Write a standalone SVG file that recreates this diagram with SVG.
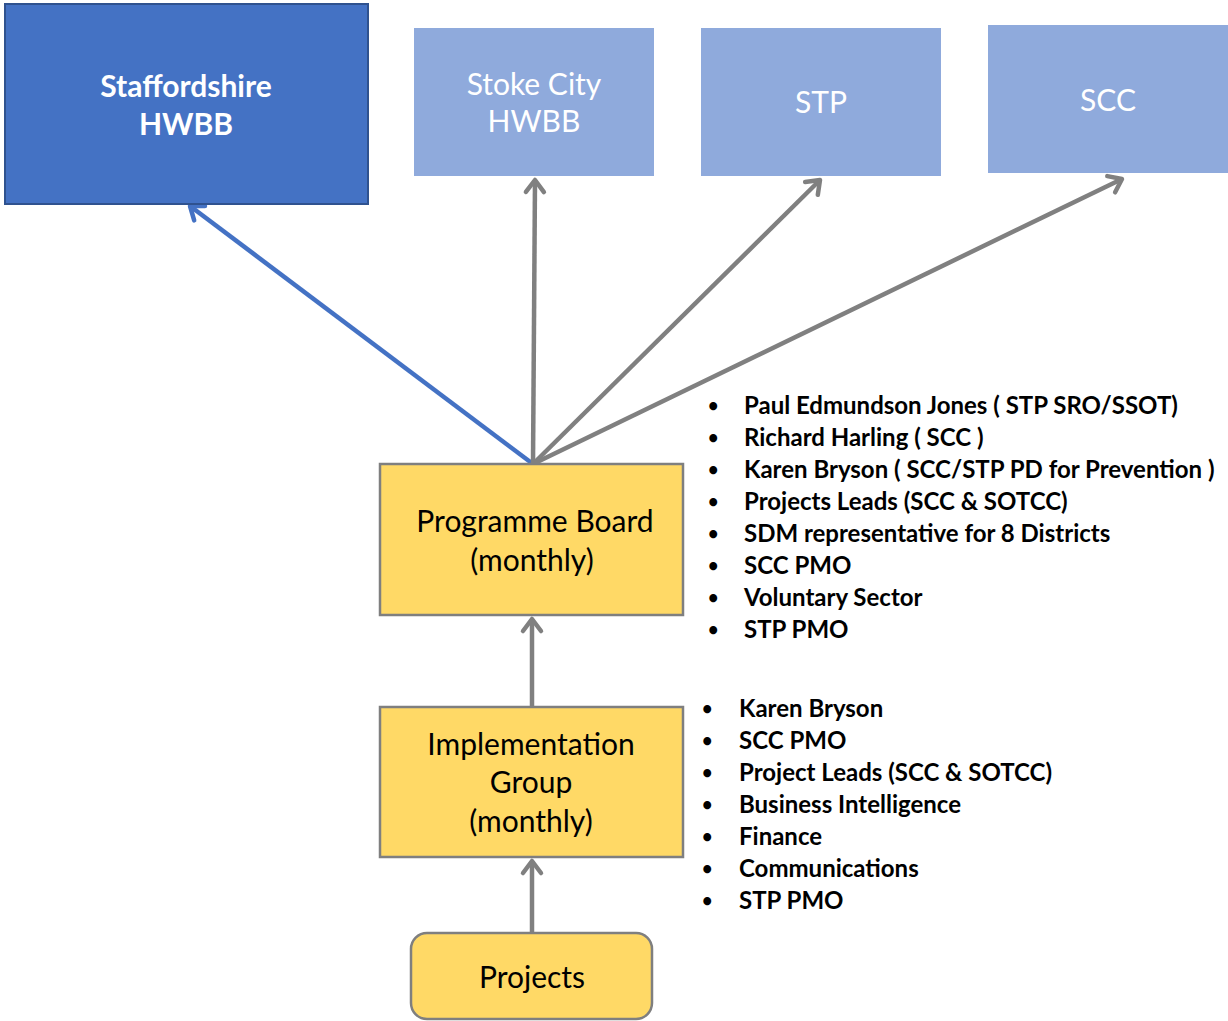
<svg xmlns="http://www.w3.org/2000/svg" width="1228" height="1021" viewBox="0 0 1228 1021">
<style>
text{font-family:Lato,"Open Sans","Liberation Sans",sans-serif}
.big{font-size:30px;text-anchor:middle}
.w{fill:#fff}
.k{fill:#000}
.li{font-size:24px;font-weight:bold;fill:#000}
.bu{font-size:18px;font-weight:bold;fill:#000}
.yb{fill:#FFD966;stroke:#7F7F7F;stroke-width:2.5}
.lb{fill:#8FAADC}
.con{fill:none;stroke-width:4.5}
.g{stroke:#808080}
.b{stroke:#4472C4}
</style>
<defs>
<marker id="ag" markerUnits="userSpaceOnUse" viewBox="-20 -15 24 30" markerWidth="24" markerHeight="30" refX="0" refY="0" orient="auto">
<path d="M-12,-9 L0,0 L-12,9" fill="none" stroke="#808080" stroke-width="4.5" stroke-linecap="round" stroke-linejoin="round"/>
</marker>
<marker id="ab" markerUnits="userSpaceOnUse" viewBox="-20 -15 24 30" markerWidth="24" markerHeight="30" refX="0" refY="0" orient="auto">
<path d="M-12,-9 L0,0 L-12,9" fill="none" stroke="#4472C4" stroke-width="4.5" stroke-linecap="round" stroke-linejoin="round"/>
</marker>
</defs>
<g id="connectors">
<line class="con b" x1="533" y1="464" x2="190" y2="206" marker-end="url(#ab)"/>
<line class="con g" x1="533" y1="464" x2="535" y2="180" marker-end="url(#ag)"/>
<line class="con g" x1="533" y1="464" x2="820" y2="180" marker-end="url(#ag)"/>
<line class="con g" x1="533" y1="464" x2="1122" y2="179" marker-end="url(#ag)"/>
<line class="con g" x1="532" y1="706" x2="532" y2="619" marker-end="url(#ag)"/>
<line class="con g" x1="532" y1="932" x2="532" y2="861" marker-end="url(#ag)"/>
</g>
<g id="staffordshire">
<rect x="5" y="4" width="363" height="200" fill="#4472C4" stroke="#2F528F" stroke-width="2"/>
<text class="big w" font-weight="bold" x="186" y="97">Staffordshire</text>
<text class="big w" font-weight="bold" x="186" y="135">HWBB</text>
</g>
<g id="stoke">
<rect class="lb" x="414" y="28" width="240" height="148"/>
<text class="big w" x="534" y="95">Stoke City</text>
<text class="big w" x="534" y="132">HWBB</text>
</g>
<g id="stp">
<rect class="lb" x="701" y="28" width="240" height="148"/>
<text class="big w" x="821" y="113">STP</text>
</g>
<g id="scc">
<rect class="lb" x="988" y="25" width="240" height="148"/>
<text class="big w" x="1108" y="111">SCC</text>
</g>
<g id="programme-board">
<rect class="yb" x="380" y="464" width="303" height="151"/>
<text class="big k" x="535" y="532">Programme Board</text>
<text class="big k" x="532" y="571">(monthly)</text>
</g>
<g id="implementation-group">
<rect class="yb" x="380" y="707" width="303" height="150"/>
<text class="big k" x="531" y="755">Implementation</text>
<text class="big k" x="531" y="793">Group</text>
<text class="big k" x="531" y="832">(monthly)</text>
</g>
<g id="projects">
<rect class="yb" x="411" y="933" width="241" height="86" rx="16"/>
<text class="big k" x="532" y="988">Projects</text>
</g>
<g id="board-members">
<text class="bu" x="708" y="412">•</text><text class="li" x="744" y="414">Paul Edmundson Jones ( STP SRO/SSOT)</text>
<text class="bu" x="708" y="444">•</text><text class="li" x="744" y="446">Richard Harling ( SCC )</text>
<text class="bu" x="708" y="476">•</text><text class="li" x="744" y="478">Karen Bryson ( SCC/STP PD for Prevention )</text>
<text class="bu" x="708" y="508">•</text><text class="li" x="744" y="510">Projects Leads (SCC &amp; SOTCC)</text>
<text class="bu" x="708" y="540">•</text><text class="li" x="744" y="542">SDM representative for 8 Districts</text>
<text class="bu" x="708" y="572">•</text><text class="li" x="744" y="574">SCC PMO</text>
<text class="bu" x="708" y="604">•</text><text class="li" x="744" y="606">Voluntary Sector</text>
<text class="bu" x="708" y="636">•</text><text class="li" x="744" y="638">STP PMO</text>
</g>
<g id="group-members">
<text class="bu" x="702" y="715">•</text><text class="li" x="739" y="717">Karen Bryson</text>
<text class="bu" x="702" y="747">•</text><text class="li" x="739" y="749">SCC PMO</text>
<text class="bu" x="702" y="779">•</text><text class="li" x="739" y="781">Project Leads (SCC &amp; SOTCC)</text>
<text class="bu" x="702" y="811">•</text><text class="li" x="739" y="813">Business Intelligence</text>
<text class="bu" x="702" y="843">•</text><text class="li" x="739" y="845">Finance</text>
<text class="bu" x="702" y="875">•</text><text class="li" x="739" y="877">Communications</text>
<text class="bu" x="702" y="907">•</text><text class="li" x="739" y="909">STP PMO</text>
</g>
</svg>
